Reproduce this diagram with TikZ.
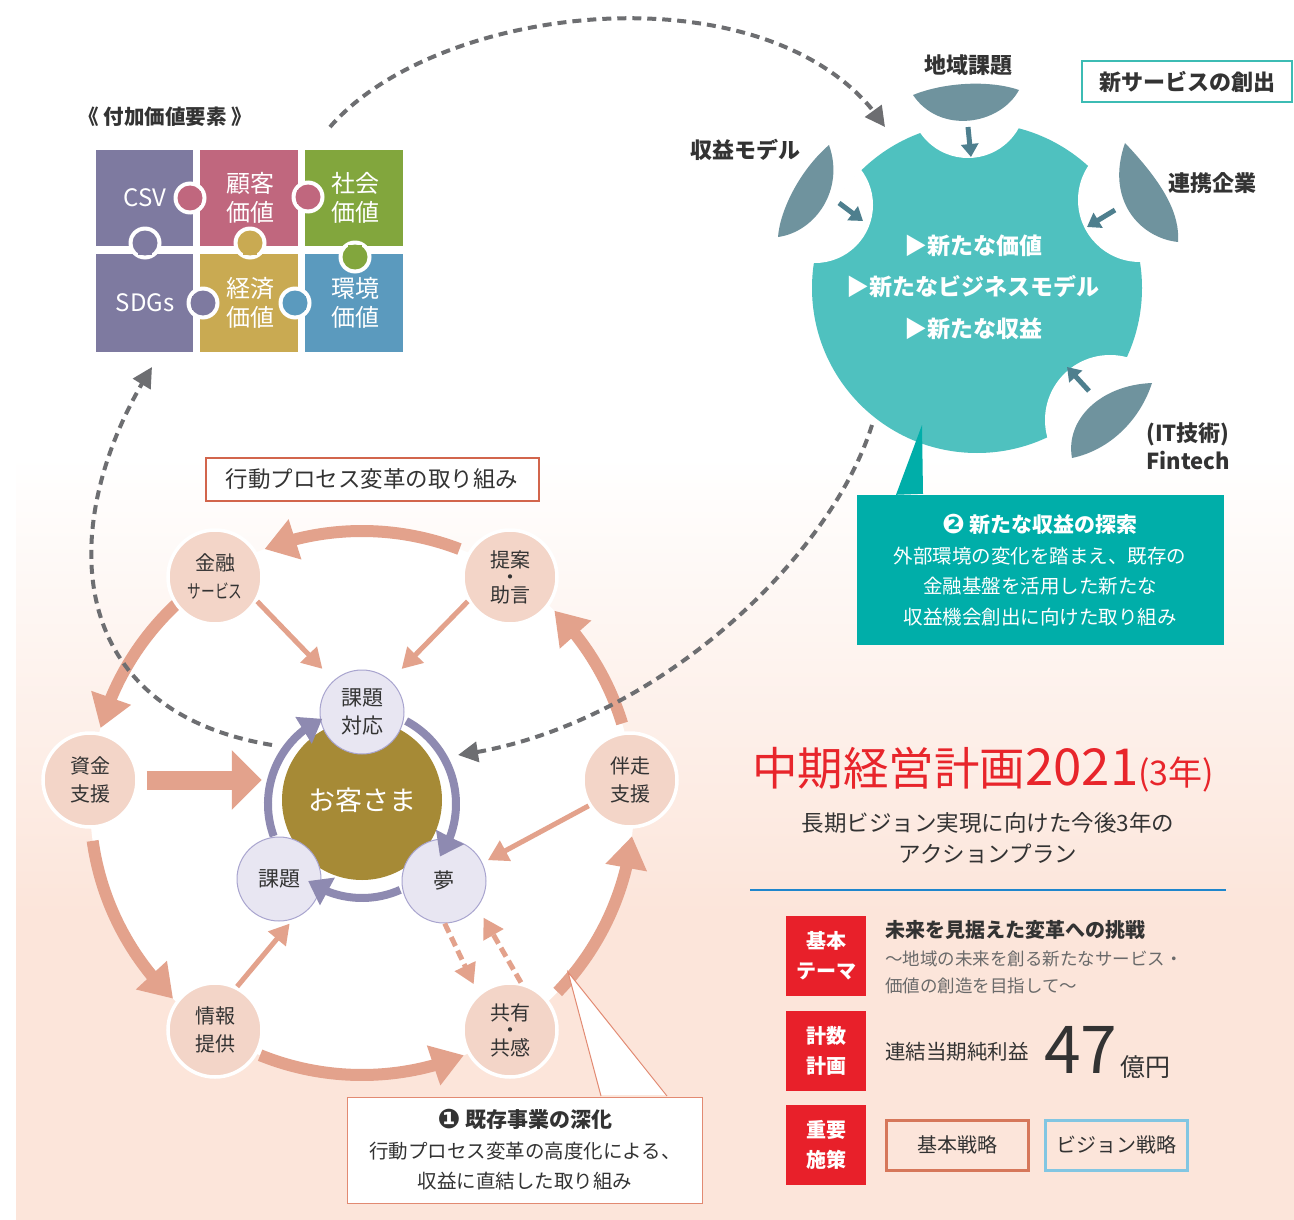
\documentclass[tikz,border=0pt]{standalone}
\usepackage{fontspec}
\setmainfont{Noto Sans CJK JP}
\newfontfamily\dvfont{DejaVu Sans}
\usetikzlibrary{arrows.meta,calc,bending}
\definecolor{txt}{HTML}{333333}
\definecolor{txtgray}{HTML}{6A6A6A}
\definecolor{dashgray}{HTML}{6D6E71}
\definecolor{blobteal}{HTML}{4FC1BF}
\definecolor{leafc}{HTML}{6F939E}
\definecolor{leafarrow}{HTML}{4E7F8E}
\definecolor{callteal}{HTML}{00AEA9}
\definecolor{svcborder}{HTML}{3CBCB4}
\definecolor{salmon}{HTML}{E3A28C}
\definecolor{peachnode}{HTML}{F3D5C8}
\definecolor{peachbg}{HTML}{FCE5DA}
\definecolor{lav}{HTML}{E8E6F2}
\definecolor{lavborder}{HTML}{A9A5CF}
\definecolor{purplearr}{HTML}{8E8AB1}
\definecolor{gold}{HTML}{A68A36}
\definecolor{redbox}{HTML}{E8202A}
\definecolor{redtitle}{HTML}{E8252B}
\definecolor{blueline}{HTML}{1E86CC}
\definecolor{kihonb}{HTML}{D6775A}
\definecolor{visionb}{HTML}{82C6E2}
\definecolor{boxred}{HTML}{D2654C}
\definecolor{callsalmon}{HTML}{E28A72}
\definecolor{pzpurple}{HTML}{7E7AA0}
\definecolor{pzpink}{HTML}{C0677E}
\definecolor{pzgreen}{HTML}{82A63D}
\definecolor{pzgold}{HTML}{C9AA52}
\definecolor{pzblue}{HTML}{5B9ABE}
\pgfdeclareverticalshading{bgshade}{100bp}{color(0bp)=(peachbg); color(25bp)=(peachbg); color(45bp)=(peachbg); color(75bp)=(white); color(100bp)=(white)}
\newcommand\fsz[2]{\fontsize{#1}{#2}\selectfont}
\newcommand\tightlines{\lineskiplimit=-50pt\relax}
\newcommand\pzknob[4]{%
  \fill[white] (#2,#3) circle[radius=16.5];
  \fill[#1] (#2,#3) circle[radius=12.5];
  \fill[#1] #4;}
\tikzset{
  pztext/.style={text=white, align=center, font=\fsz{24}{29}, inner sep=0pt},
  lbl/.style={text=txt, font=\bfseries\fsz{22}{28}, align=center, inner sep=0pt},
  blobtext/.style={text=white, font=\bfseries\fsz{23}{41.5}, align=center, inner sep=0pt},
  pnode/.style={circle, fill=peachnode, draw=white, line width=3.5pt, minimum size=94pt, inner sep=0pt, align=center, text=txt, font=\fsz{20}{28}},
  lnode/.style={circle, fill=lav, draw=lavborder, line width=1pt, minimum size=84pt, inner sep=0pt, align=center, text=txt, font=\fsz{21}{28}},
  bigarc/.style={draw=salmon, line width=12pt, -{Triangle[length=32pt,width=40pt]}},
  thinarr/.style={draw=salmon, line width=5pt, -{Triangle[length=20pt,width=22pt]}},
  dasharr/.style={draw=salmon, line width=5pt, dash pattern=on 10pt off 5pt, -{Triangle[length=20pt,width=22pt]}},
  grayd/.style={draw=dashgray, line width=4pt, dash pattern=on 9pt off 6pt, -{Triangle[length=20pt,width=20pt]}},
  purarr/.style={draw=purplearr, line width=8pt, -{Triangle[length=22pt,width=30pt]}},
  leafarr/.style={draw=leafarrow, line width=5pt, -{Triangle[length=13pt,width=17pt]}},
  redlab/.style={fill=redbox, minimum width=80pt, minimum height=80pt, inner sep=0pt, text=white, align=center, font=\bfseries\fsz{20}{30}},
  sbox/.style={fill=none, line width=3pt, minimum width=142pt, minimum height=50pt, inner sep=0pt, text=txt, font=\fsz{20}{20}},
}
\begin{document}
\begin{tikzpicture}[x=1pt,y=-1pt]
\useasboundingbox (0,0) rectangle (1294,1220);
\fill[white] (0,0) rectangle (1294,1220);
\shade[shading=bgshade] (16,456) rectangle (1294,1220);

% ---------- puzzle ----------
\node[text=txt, font=\bfseries\fsz{20.5}{20.5}] (pztitle) at (165,117) {《 付加価値要素 》};
\fill[pzpurple] (96,150) rectangle (193,246);
\fill[pzpink] (200,150) rectangle (298,246);
\fill[pzgreen] (305,150) rectangle (403,246);
\fill[pzpurple] (96,254) rectangle (193,352);
\fill[pzgold] (200,254) rectangle (298,352);
\fill[pzblue] (305,254) rectangle (403,352);
\pzknob{pzpink}{190}{198}{(188,191) rectangle (201,205)}
\pzknob{pzpink}{308}{197}{(297,190) rectangle (310,204)}
\pzknob{pzgold}{250}{243}{(243,241) rectangle (257,255)}
\pzknob{pzpurple}{145}{243}{(138,241) rectangle (152,255)}
\pzknob{pzgreen}{355}{257}{(348,245) rectangle (362,259)}
\pzknob{pzpurple}{203}{303}{(192,296) rectangle (205,310)}
\pzknob{pzblue}{295}{303}{(293,296) rectangle (306,310)}
\node[pztext] (csv) at (145,198) {CSV};
\node[pztext] (kokyaku) at (250,198) {顧客\\価値};
\node[pztext] (shakai) at (355,198) {社会\\価値};
\node[pztext] (sdgs) at (145,303) {SDGs};
\node[pztext] (keizai) at (250,303) {経済\\価値};
\node[pztext] (kankyo) at (355,303) {環境\\価値};

% ---------- blob ----------
\fill[blobteal] (977,288) circle[radius=165];
\begin{scope}
  \clip (977,288) circle[radius=166];
  \fill[white] (968,100) circle[radius=58];
  \fill[white] (815,205) circle[radius=58];
  \fill[white] (1140,200) circle[radius=62];
  \fill[white] (1110,420) circle[radius=65];
\end{scope}
\fill[leafc] (913,95) .. controls (945,82) and (990,80) .. (1019,90) .. controls (1000,125) and (940,135) .. cycle;
\fill[leafc] (829,145) .. controls (800,170) and (780,210) .. (778,237) .. controls (815,232) and (845,190) .. cycle;
\fill[leafc] (1125,143) .. controls (1165,185) and (1180,215) .. (1178,242) .. controls (1140,238) and (1105,200) .. cycle;
\fill[leafc] (1152,383) .. controls (1100,385) and (1065,420) .. (1072,458) .. controls (1110,450) and (1140,420) .. cycle;
\coordinate (lfT) at (968,127); \coordinate (inT) at (971,157);
\coordinate (lfL) at (839,203); \coordinate (inL) at (863,221);
\coordinate (lfR) at (1115,210); \coordinate (inR) at (1087,227);
\coordinate (lfB) at (1089,391); \coordinate (inB) at (1067,367);
\draw[leafarr] (lfT) -- (inT);
\draw[leafarr] (lfL) -- (inL);
\draw[leafarr] (lfR) -- (inR);
\draw[leafarr] (lfB) -- (inB);
\node[blobtext] (blobt) at (973,287) {▶新たな価値\\▶新たなビジネスモデル\\▶新たな収益};
\node[lbl] (chiiki) at (968,65) {地域課題};
\node[lbl] (shueki) at (745,150) {収益モデル};
\node[lbl] (renkei) at (1212,183) {連携企業};
\node[lbl] (fintech) at (1188,446) {(IT技術)\\Fintech};
\node[draw=svcborder, line width=2pt, fill=white, minimum width=210pt, minimum height=41pt, inner sep=0pt, font=\bfseries\fsz{22}{22}, text=txt] (svc) at (1187,82) {新サービスの創出};

% teal callout
\node[fill=callteal, minimum width=367pt, minimum height=150pt, inner sep=0pt, text=white, align=center, font=\fsz{19.5}{30.5}] (c2) at (1040,570) {{\bfseries\fsz{21}{30.5}{\dvfont\fsz{27}{30.5}\raisebox{-1pt}{❷}} 新たな収益の探索}\\外部環境の変化を踏まえ、既存の\\金融基盤を活用した新たな\\収益機会創出に向けた取り組み};
\coordinate (c2apex) at (922,425);
\fill[callteal] ([xshift=-144pt]c2.north) -- (c2apex) -- ([xshift=-117pt,yshift=1pt]c2.north) -- cycle;

% ---------- lower cycle ----------
\coordinate (cen) at (362,803);
\fill[white] (cen) circle[radius=272];
\draw[bigarc] ($(cen)+(291:272)$) arc[start angle=291, end angle=249, radius=272];
\draw[bigarc] ($(cen)+(228:272)$) arc[start angle=228, end angle=196, radius=272];
\draw[bigarc] ($(cen)+(172:272)$) arc[start angle=172, end angle=134, radius=272];
\draw[bigarc] ($(cen)+(112:272)$) arc[start angle=112, end angle=68, radius=272];
\draw[bigarc] ($(cen)+(44:272)$) arc[start angle=44, end angle=7, radius=272];
\draw[bigarc] ($(cen)+(343:272)$) arc[start angle=343, end angle=315, radius=272];

\node[pnode] (kinyu) at (215,577) {金融\\{\fsz{19}{20}\scalebox{0.72}[1]{サービス}}};
\node[pnode, font={\fsz{20}{17.5}\tightlines}] (teian) at (510,577) {提案\\・\\助言};
\node[pnode] (shikin) at (90,780) {資金\\支援};
\node[pnode] (bansou) at (630,780) {伴走\\支援};
\node[pnode] (joho) at (215,1030) {情報\\提供};
\node[pnode, font={\fsz{20}{17.5}\tightlines}] (kyoyu) at (510,1030) {共有\\・\\共感};

\node[circle, fill=gold, minimum size=160pt, inner sep=0pt, text=white, font=\fsz{27}{30}] (kyaku) at (362,800) {お客さま};
\node[lnode] (taiou) at (362,712) {課題\\対応};
\node[lnode] (kadai) at (279,879) {課題};
\node[lnode] (yume) at (444,881) {夢};
\coordinate (pc) at (362,804);
\draw[purarr] ($(pc)+(160:94)$) arc[start angle=160, end angle=245, radius=94];
\draw[purarr] ($(pc)+(298:94)$) arc[start angle=298, end angle=394, radius=94];
\draw[purarr] ($(pc)+(66:94)$) arc[start angle=66, end angle=125, radius=94];

\draw[thinarr, shorten >=16pt] (kinyu.-30) -- (taiou.132);
\draw[thinarr, shorten >=16pt] (teian.210) -- (taiou.48);
\draw[thinarr, shorten >=6pt] (bansou.212) -- (yume.25);
\draw[thinarr, shorten >=6pt] (joho.63) -- (kadai.-70);
\draw[dasharr, shorten >=10pt] (yume.-89) -- (kyoyu.131);
\draw[dasharr, shorten >=12pt] (kyoyu.77) -- (yume.-38);
\draw[draw=salmon, line width=19pt, -{Triangle[length=30pt,width=58pt]}, shorten >=20pt] ([xshift=8pt]shikin.east) -- (shikin.east -| kyaku.west);

\node[draw=boxred, line width=2pt, fill=white, minimum width=333pt, minimum height=43pt, inner sep=0pt, text=txt, font=\fsz{22.5}{22.5}] (kodo) at (372,479) {行動プロセス変革の取り組み};

% callout 1
\node[draw=callsalmon, line width=1pt, fill=white, minimum width=355pt, minimum height=106pt, inner sep=0pt, text=txt, align=center, font=\fsz{19.5}{30.5}] (c1) at (525,1150) {{\bfseries\fsz{21}{30.5}{\dvfont\fsz{27}{30.5}\raisebox{-1pt}{❶}} 既存事業の深化}\\行動プロセス変革の高度化による、\\収益に直結した取り組み};
\coordinate (c1apex) at (568,972);
\fill[white] ([xshift=76pt,yshift=1.5pt]c1.north) -- (c1apex) -- ([xshift=142pt,yshift=1.5pt]c1.north) -- cycle;
\draw[callsalmon, line width=1pt] ([xshift=76pt,yshift=0.5pt]c1.north) -- (c1apex) -- ([xshift=142pt,yshift=0.5pt]c1.north);

% ---------- dashed gray connectors ----------
\coordinate (dTs) at (330,127); \coordinate (dTe) at (885,127);
\draw[grayd] (dTs) .. controls (440,0) and (780,-35) .. (dTe);
\coordinate (dLs) at (272,745); \coordinate (dLe) at (152,367);
\draw[grayd] (dLs) .. controls (60,710) and (55,520) .. (dLe);
\coordinate (dRs) at (872,425); \coordinate (dRe) at (458,755);
\draw[grayd] (dRs) .. controls (830,560) and (650,730) .. (dRe);

% ---------- right panel ----------
\node[anchor=base west, inner sep=0pt, text=redtitle] (title) at (752,785) {\fsz{45.5}{45}中期経営計画{\fsz{51}{50}2021}{\fsz{34}{33}(3年)}};
\node[text=txt, align=center, font=\fsz{22.5}{31}, inner sep=0pt] (sub) at (988,838) {長期ビジョン実現に向けた今後3年の\\アクションプラン};
\draw[blueline, line width=1.5pt] (750,890) -- (1226,890);
\node[redlab] (rb1) at (826,956) {基本\\テーマ};
\node[redlab] (rb2) at (826,1051) {計数\\計画};
\node[redlab] (rb3) at (826,1145) {重要\\施策};
\node[anchor=base west, inner sep=0pt, text=txt, font=\bfseries\fsz{20}{20}] (theme) at (885,937) {未来を見据えた変革への挑戦};
\node[anchor=base west, inner sep=0pt, text=txtgray, font=\fsz{17.5}{17.5}] (theme2) at (885,965) {～地域の未来を創る新たなサービス・};
\node[anchor=base west, inner sep=0pt, text=txtgray, font=\fsz{17.5}{17.5}] (theme3) at (885,992) {価値の創造を目指して～};
\node[anchor=base west, inner sep=0pt, text=txt, font=\fsz{20.5}{20.5}] (rieki) at (885,1059) {連結当期純利益};
\node[anchor=base west, inner sep=0pt, text=txt, font=\fsz{66}{66}] (num) at (1044,1073) {47};
\node[anchor=base west, inner sep=0pt, text=txt, font=\fsz{25}{25}] (oku) at (1120,1076) {億円};
\node[sbox, draw=kihonb] (kihon) at (957,1145) {基本戦略};
\node[sbox, draw=visionb] (vision) at (1116,1145) {ビジョン戦略};
\end{tikzpicture}
\end{document}
